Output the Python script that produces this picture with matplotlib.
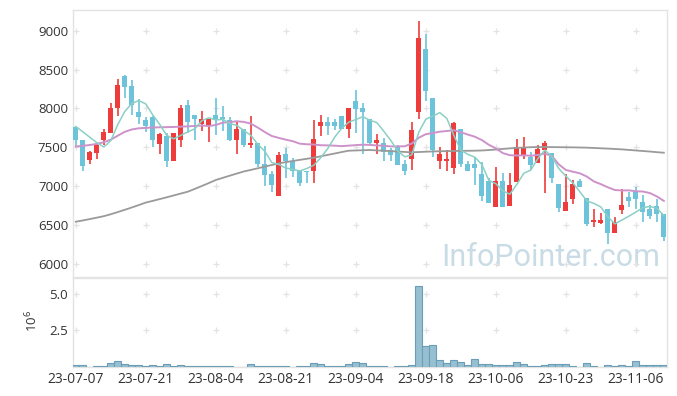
import numpy as np
import pandas as pd
import matplotlib
matplotlib.use('Agg')
import matplotlib.pyplot as plt

plt.rcParams['font.family'] = ['Open Sans', 'DejaVu Sans']

# OHLC (85 trading days, 23-07-07 .. 23-11-10)
opens = [7766, 7600, 7340, 7430, 7600, 7690, 8000, 8420, 8290, 7950,
         7850, 7890, 7540, 7650, 7320, 7600, 8050, 7920, 7800, 7780,
         7910, 7890, 7850, 7590, 7740, 7530, 7560, 7290, 7160, 6880,
         7410, 7330, 7210, 7190, 7200, 7770, 7820, 7820, 7900, 7730,
         8100, 8000, 7870, 7560, 7550, 7460, 7510, 7290, 7350, 7950,
         8770, 8140, 7320, 7330, 7240, 7740, 7290, 7290, 7157, 7067,
         6737, 7067, 6750, 7058, 7393, 7376, 7303, 7466, 7423, 7028,
         6681, 6840, 7067, 6844, 6544, 6523, 6707, 6394, 6694, 6857,
         6930, 6793, 6707, 6750, 6643]
highs = [7766, 7600, 7450, 7560, 7740, 8070, 8380, 8430, 8370, 8120,
         7890, 7900, 7690, 7690, 7690, 8050, 8110, 7920, 7970, 7870,
         8140, 8030, 7890, 7820, 7740, 7900, 7560, 7520, 7190, 7440,
         7490, 7360, 7210, 7190, 7850, 7910, 7890, 7870, 7900, 8000,
         8240, 8070, 7870, 7670, 7620, 7490, 7530, 7340, 7820, 9130,
         8960, 8140, 7510, 7470, 7830, 7740, 7320, 7380, 7316, 7100,
         7251, 7174, 7166, 7607, 7628, 7436, 7530, 7581, 7423, 7028,
         7157, 7080, 7088, 6844, 6707, 6651, 6707, 6608, 6960, 6930,
         6994, 6887, 6758, 6840, 6643]
lows = [7500, 7190, 7290, 7350, 7530, 7690, 7900, 8130, 7920, 7800,
        7700, 7510, 7410, 7250, 7320, 7510, 7690, 7590, 7710, 7570,
        7660, 7710, 7586, 7420, 7500, 7490, 7250, 7000, 6920, 6878,
        7100, 7120, 7000, 7040, 7040, 7640, 7660, 7720, 7730, 7620,
        7680, 7420, 7530, 7420, 7320, 7320, 7270, 7140, 7210, 7860,
        8100, 7380, 7220, 7190, 7160, 7250, 7190, 7020, 6814, 6780,
        6737, 6737, 6750, 7058, 7346, 7209, 7303, 6908, 7046, 6664,
        6681, 6771, 6994, 6488, 6471, 6514, 6257, 6394, 6643, 6737,
        6703, 6544, 6578, 6544, 6300]
closes = [7594, 7260, 7440, 7530, 7700, 8000, 8300, 8280, 8040, 7890,
          7780, 7590, 7670, 7330, 7680, 8000, 7820, 7860, 7860, 7860,
          7860, 7860, 7590, 7740, 7530, 7556, 7280, 7140, 7020, 7400,
          7330, 7190, 7040, 7180, 7610, 7820, 7780, 7780, 7740, 8000,
          7990, 7960, 7550, 7594, 7440, 7400, 7270, 7190, 7720, 8900,
          8230, 7470, 7410, 7350, 7810, 7280, 7200, 7230, 6878, 6790,
          7067, 6737, 7016, 7508, 7508, 7273, 7474, 7560, 7101, 6724,
          6797, 7028, 6994, 6514, 6566, 6566, 6394, 6540, 6758, 6814,
          6836, 6673, 6621, 6638, 6351]
# volume in millions
volumes = [0.09, 0.09, 0.01, 0.05, 0.05, 0.23, 0.37, 0.16, 0.09, 0.09,
           0.05, 0.09, 0.05, 0.16, 0.05, 0.09, 0.05, 0.05, 0.05, 0.05,
           0.05, 0.05, 0.05, 0.01, 0.01, 0.16, 0.05, 0.05, 0.05, 0.05,
           0.05, 0.01, 0.05, 0.05, 0.23, 0.16, 0.05, 0.05, 0.05, 0.16,
           0.30, 0.23, 0.05, 0.05, 0.05, 0.01, 0.05, 0.05, 0.09, 5.58,
           1.41, 1.48, 0.44, 0.23, 0.44, 0.30, 0.09, 0.51, 0.16, 0.16,
           0.09, 0.09, 0.09, 0.30, 0.16, 0.05, 0.05, 0.09, 0.16, 0.16,
           0.16, 0.05, 0.01, 0.23, 0.05, 0.01, 0.09, 0.05, 0.09, 0.05,
           0.37, 0.09, 0.09, 0.09, 0.09]

# moving averages: starting values need history before the window
ma5_head = [7768, 7700, 7630, 7560]
ma20_head = [7510, 7520, 7530, 7545, 7565, 7600, 7650, 7700, 7730, 7745,
             7750, 7755, 7758, 7760, 7762, 7766, 7770, 7775, 7780]
ma_long = [6544, 6560, 6578, 6596, 6615, 6640, 6668, 6697, 6727, 6758,
           6790, 6812, 6835, 6858, 6882, 6906, 6930, 6966, 7003, 7041,
           7080, 7108, 7136, 7163, 7190, 7210, 7231, 7252, 7273, 7294,
           7310, 7325, 7339, 7353, 7367, 7385, 7403, 7421, 7440, 7457,
           7460, 7463, 7466, 7461, 7456, 7451, 7446, 7441, 7436, 7440,
           7444, 7447, 7450, 7452, 7453, 7455, 7456, 7457, 7460, 7465,
           7472, 7480, 7487, 7493, 7498, 7502, 7504, 7504, 7503, 7502,
           7501, 7500, 7498, 7496, 7492, 7488, 7484, 7479, 7474, 7467,
           7460, 7453, 7446, 7438, 7431]

tick_labels = ['23-07-07', '23-07-21', '23-08-04', '23-08-21', '23-09-04',
               '23-09-18', '23-10-06', '23-10-23', '23-11-06']

df = pd.DataFrame({'open': opens, 'high': highs, 'low': lows,
                   'close': closes, 'volume': volumes})
ma5 = df['close'].rolling(5).mean().to_numpy()
ma5[:4] = ma5_head
ma20 = df['close'].rolling(20).mean().to_numpy()
ma20[:19] = ma20_head

x = np.arange(len(df))
up = df['close'] >= df['open']
RED = '#EE3B3B'
BLUE = '#6CC3DA'
cols = np.where(up, RED, BLUE)
grid_c = '#E3E3E3'
txt_c = '#333333'

fig = plt.figure(figsize=(6.77, 3.96), dpi=100)
ax = fig.add_axes([73 / 677, 119 / 396, 594 / 677, 267 / 396])
axv = fig.add_axes([73 / 677, 29.3 / 396, 594 / 677, 89.2 / 396], sharex=ax)

xt = np.arange(0, 81, 10)
yt = np.arange(6000, 9001, 500)

# price panel
ax.set_xlim(-0.4, 84.45)
ax.set_ylim(5833, 9266)
body_lo = np.minimum(df['open'], df['close'])
body_h = np.maximum(np.abs(df['close'] - df['open']), 12)
ax.vlines(x, df['low'], df['high'], colors=cols, lw=1.2, zorder=3)
ax.bar(x, body_h, bottom=body_lo, width=0.72, color=cols, zorder=4)
ax.plot(x, ma_long, color='#9A9A9A', lw=1.3, zorder=5)
ax.plot(x, ma20, color='#CE92CB', lw=1.4, zorder=5)
ax.plot(x, ma5, color='#8AD0C4', lw=1.1, zorder=6)
gx, gy = np.meshgrid(xt, yt)
ax.plot(gx.ravel(), gy.ravel(), '+', color=grid_c, ms=5, mew=0.9, zorder=1)
ax.set_yticks(yt)
ax.tick_params(axis='both', length=0, labelsize=9.5, labelcolor=txt_c)
ax.tick_params(axis='x', labelbottom=False)
ax.text(551 / 677, (396 - 266) / 396, 'InfoPointer.com', transform=fig.transFigure,
        ha='center', va='baseline', fontsize=22, color='#C9DCE6',
        family='Roboto', zorder=0)

# volume panel
axv.bar(x, df['volume'], width=1.0, color='#96C0D2', edgecolor='#6C9DB6',
        lw=0.8, zorder=3)
axv.set_ylim(0, 6.16)
axv.set_yticks([2.5, 5.0])
axv.set_yticklabels(['2.5', '5.0'])
gx2, gy2 = np.meshgrid(xt, [2.5, 5.0])
axv.plot(gx2.ravel(), gy2.ravel(), '+', color=grid_c, ms=5, mew=0.9, zorder=1)
axv.set_xticks(xt)
axv.set_xticklabels(tick_labels)
axv.tick_params(axis='both', length=0, labelsize=9.5, labelcolor=txt_c)
axv.tick_params(axis='x', labelsize=10, pad=4)
fig.text(32 / 677, 1 - 321 / 396, r'$\mathregular{10^6}$', rotation=90,
         ha='center', va='center', fontsize=9.5, color=txt_c)

for a in (ax, axv):
    for s in a.spines.values():
        s.set_color('#E3E3E3')
        s.set_linewidth(1.0)

fig.savefig('out.png', dpi=100)
